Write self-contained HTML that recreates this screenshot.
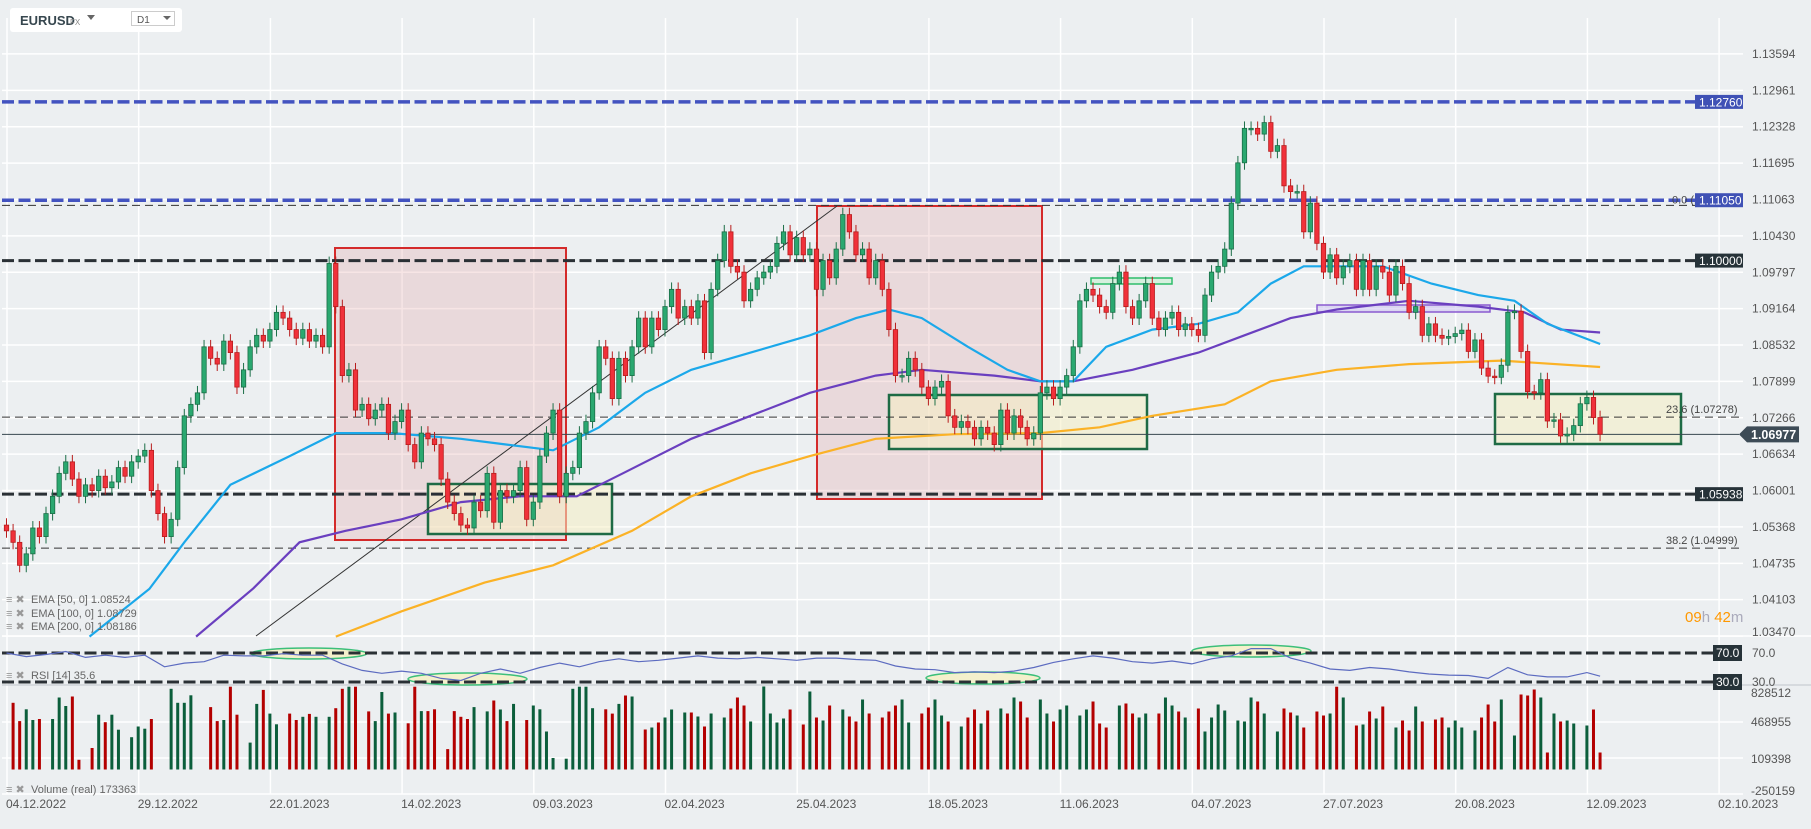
<!DOCTYPE html>
<html><head><meta charset="utf-8"><style>
html,body{margin:0;padding:0;background:#eceff1;}
svg{display:block;font-family:"Liberation Sans",sans-serif;}
</style></head><body>
<svg id="c" width="1811" height="829" viewBox="0 0 1811 829"></svg>
<script>
const closes=[1.0530,1.0510,1.0470,1.0490,1.0535,1.0520,1.0560,1.0590,1.0630,1.0650,1.0620,1.0590,1.0610,1.0600,1.0625,1.0605,1.0615,1.0640,1.0625,1.0650,
1.0660,1.0670,1.0600,1.0560,1.0520,1.0550,1.0640,1.0730,1.0750,1.0770,1.0850,1.0830,1.0820,1.0860,1.0840,1.0780,1.0810,1.0850,1.0870,1.0860,
1.0880,1.0910,1.0900,1.0880,1.0865,1.0880,1.0860,1.0870,1.0850,1.0995,1.0920,1.0800,1.0810,1.0740,1.0750,1.0725,1.0740,1.0750,1.0700,1.0720,
1.0740,1.0680,1.0650,1.0700,1.0690,1.0680,1.0620,1.0580,1.0560,1.0540,1.0535,1.0580,1.0565,1.0630,1.0545,1.0600,1.0590,1.0600,1.0640,1.0550,
1.0580,1.0660,1.0700,1.0740,1.0590,1.0630,1.0640,1.0700,1.0720,1.0770,1.0850,1.0830,1.0760,1.0830,1.0800,1.0850,1.0900,1.0850,1.0900,1.0880,
1.0920,1.0950,1.0900,1.0920,1.0900,1.0930,1.0840,1.0950,1.1000,1.1050,1.0990,1.0980,1.0930,1.0950,1.0970,1.0980,1.0990,1.1030,1.1050,1.1010,
1.1040,1.1010,1.1020,1.0950,1.1000,1.0970,1.1020,1.1080,1.1050,1.1010,1.1020,1.0970,1.1000,1.0950,1.0880,1.0800,1.0800,1.0830,1.0810,1.0780,
1.0760,1.0780,1.0790,1.0730,1.0710,1.0720,1.0710,1.0690,1.0710,1.0700,1.0680,1.0740,1.0700,1.0730,1.0710,1.0690,1.0700,1.0770,1.0780,1.0760,
1.0780,1.0800,1.0850,1.0930,1.0950,1.0940,1.0920,1.0910,1.0960,1.0980,1.0920,1.0900,1.0930,1.0960,1.0900,1.0880,1.0900,1.0910,1.0880,1.0890,
1.0880,1.0870,1.0940,1.0980,1.0990,1.1020,1.1100,1.1170,1.1230,1.1230,1.1220,1.1240,1.1190,1.1200,1.1130,1.1120,1.1120,1.1050,1.1100,1.1030,
1.0980,1.1010,1.0970,1.0990,1.1000,1.0950,1.1000,1.0950,1.0990,1.0980,1.0940,1.0990,1.0960,1.0910,1.0920,1.0870,1.0890,1.0870,
1.0865,1.0868,1.0873,1.0879,1.0842,1.0862,1.0813,1.0799,1.0797,1.0818,1.0910,1.0912,1.0842,1.0772,1.0770,1.0793,1.0721,1.0723,1.0695,1.0698,1.0713,1.0751,1.0762,1.0727,1.0698];
const firstOpen=1.0540;
const volumes=[0,667,484,602,495,505, 0,505,720,635,730,97, 0,215,548,473,548,398, 0,323,430,408,505,0, 0,807,667,667,742,0,
0,624,484,495,828,548, 0,269,656,796,559,452, 0,559,495,527,556,527, 0,527,613,807,828,828, 0,581,484,775,559,570,
0,462,828,584,584,602, 0,204,584,527,505,624, 0,581,690,600,484,656, 0,495,640,602,380,115, 0,108,807,828,828,613,
0,602,559,656,740,730, 0,400,420,470,520,600, 0,570,570,530,430,560, 0,520,610,720,640,480, 0,830,560,470,510,600,
0,450,780,520,490,640, 0,600,530,480,700,560, 0,520,580,640,700,470, 0,560,620,700,540,480, 0,430,520,600,460,590,
0,610,560,720,680,520, 0,700,560,480,600,640, 0,540,600,680,460,420, 0,640,660,560,520,560, 0,560,720,640,580,520,
0,610,380,520,650,590, 0,490,480,720,680,560, 0,380,610,570,540,420, 0,580,540,560,828,720, 0,440,450,580,510,630,
0,420,490,390,630,480, 0,500,520,420,490,420, 0,390,520,650,480,700, 0,340,750,740,800,720, 170,560,480,490,460,0,
440,600,170];
const rsiValues=[70,65,68,72,64,67,64,67,51,56,58,67,66,66,69,67,67,55,46,42,45,42,35,32,42,48,42,50,56,51,58,62,58,60,63,66,
63,62,64,62,60,63,63,61,60,52,48,47,43,44,43,45,50,57,62,66,63,58,56,59,55,62,66,76,76,63,56,48,46,50,48,44,41,39.5,39,35,50,40,37,37,43,38];
const ema50Bars=[12.6,21.7,27,34,43,50,58.6,69,76,83,90,97,104,113,122,129,134,139,146,152,157,162,167,174,181,187,192,197,202,209,216.4,223.5,229,234,242];
const ema50Vals=[1.0346,1.0429,1.051,1.061,1.066,1.070,1.070,1.069,1.068,1.067,1.071,1.077,1.081,1.084,1.087,1.090,1.0915,1.090,1.085,1.081,1.079,1.079,1.085,1.088,1.089,1.091,1.096,1.099,1.099,1.099,1.096,1.094,1.093,1.089,1.0855];
const ema100Bars=[28.8,37.5,44.5,51.5,60,69,78,86.6,93.6,104,113,122,132,139,150,157,162,171,181,188,195,202,213,223.5,230.5,236,242];
const ema100Vals=[1.0346,1.043,1.051,1.053,1.055,1.058,1.059,1.059,1.063,1.069,1.073,1.077,1.080,1.081,1.080,1.079,1.079,1.081,1.084,1.087,1.090,1.0915,1.093,1.092,1.091,1.088,1.0875];
const ema200Bars=[50,60,72.6,83,95,104,113,122,132,144,157,166,174,185,192,202,213,227,242];
const ema200Vals=[1.0346,1.039,1.044,1.047,1.053,1.059,1.063,1.066,1.069,1.0698,1.070,1.071,1.073,1.075,1.079,1.081,1.082,1.0826,1.0815];
const priceTicks=["1.13594","1.12961","1.12328","1.11695","1.11063","1.10430","1.09797","1.09164","1.08532","1.07899","1.07266","1.06634","1.06001","1.05368","1.04735","1.04103","1.03470"];
const dateLabels=["04.12.2022","29.12.2022","22.01.2023","14.02.2023","09.03.2023","02.04.2023","25.04.2023","18.05.2023","11.06.2023","04.07.2023","27.07.2023","20.08.2023","12.09.2023","02.10.2023"];
const volTicks=["828512","468955","109398","-250159"];

const svg=document.getElementById('c');
const NS='http://www.w3.org/2000/svg';
const X=i=>6.5+6.585*i;
const Y=p=>345+(1.08532-p)*5750;
const VY=v=>769.5-v*0.1;
const RY=r=>653+(70-r)*0.725;
function mk(tag,attrs,parent){const e=document.createElementNS(NS,tag);for(const k in attrs)e.setAttribute(k,attrs[k]);(parent||svg).appendChild(e);return e;}
function txt(s,x,y,attrs){const e=mk('text',Object.assign({x:x,y:y},attrs||{}));e.textContent=s;return e;}

// grid
const grid=mk('g',{});


for(let k=0;k<priceTicks.length;k++){const y=Y(parseFloat(priceTicks[k]));mk('line',{x1:2,x2:1743,y1:y,y2:y,stroke:'#fff','stroke-width':1.5},grid);}
for(let k=0;k<dateLabels.length;k++){const x=7+131.7*k;mk('line',{x1:x,x2:x,y1:18,y2:794,stroke:'#fff','stroke-width':1.5},grid);}
[722,758,794].forEach(y=>mk('line',{x1:2,x2:1743,y1:y,y2:y,stroke:'#fff','stroke-width':1.5},grid));
mk('line',{x1:2,x2:1811,y1:636,y2:636,stroke:'#fff','stroke-width':1.5},grid);
mk('line',{x1:2,x2:1811,y1:685,y2:685,stroke:'#cfd4d8','stroke-width':1.5},grid);

// red zones
[[335,248,566,540],[817,206,1042,499]].forEach((r,i)=>{const e=mk('rect',{x:r[0],y:r[1],width:r[2]-r[0],height:r[3]-r[1],fill:'rgba(226,160,160,0.28)',stroke:'#d42a2a','stroke-width':2});

});
// green boxes
[[428,484,612,534],[889,395,1147,449],[1495,394,1681,444]].forEach((r,i)=>{const e=mk('rect',{x:r[0],y:r[1],width:r[2]-r[0],height:r[3]-r[1],fill:'rgba(245,238,195,0.55)',stroke:'#1e6b45','stroke-width':2.5});

});
let e=mk('rect',{x:1091,y:278,width:81,height:6,fill:'rgba(200,240,210,0.6)',stroke:'#2ebd6b','stroke-width':1.5});


e=mk('rect',{x:1317,y:305,width:173,height:7,fill:'rgba(200,190,240,0.5)',stroke:'#8a5ad0','stroke-width':1.5});



// level lines
function level(p,color,w,dash,x2,name){const y=Y(p);const l=mk('line',{x1:2,x2:x2,y1:y,y2:y,stroke:color,'stroke-width':w,'stroke-dasharray':dash});}
level(1.12760,'#4353c0',3.5,'12 4.5',1695,'resistance-1.12760');
level(1.10961,'#333',1,'8 5',1740,'fib-0-line');
level(1.11050,'#4353c0',3.5,'12 4.5',1695,'resistance-1.11050');
level(1.10000,'#2a3035',3,'12 4.5',1695,'level-1.10000');
level(1.05938,'#2a3035',3,'12 4.5',1695,'support-1.05938');
level(1.07278,'#333',1,'8 5',1740,'fib-23.6-line');
level(1.04999,'#333',1,'8 5',1740,'fib-38.2-line');
e=mk('line',{x1:2,x2:1739,y1:Y(1.06977),y2:Y(1.06977),stroke:'#37474f','stroke-width':1});


e=mk('line',{x1:256,y1:636,x2:837,y2:206,stroke:'#333','stroke-width':1});



// EMAs
function ema(bars,vals,color,name){let d='';for(let i=0;i<bars.length;i++){d+=(i?'L':'M')+X(bars[i]).toFixed(1)+','+Y(vals[i]).toFixed(1);}const p=mk('path',{d:d,fill:'none',stroke:color,'stroke-width':2.2});}
ema(ema200Bars,ema200Vals,'#fbb226','ema-200-line');
ema(ema100Bars,ema100Vals,'#6a3fbf','ema-100-line');
ema(ema50Bars,ema50Vals,'#1ba8ea','ema-50-line');

// candles
const cg=mk('g',{});


for(let i=0;i<closes.length;i++){
  const o=i?closes[i-1]:firstOpen,c=closes[i];
  const up=c>=o;const hi=Math.max(o,c)+0.0012,lo=Math.min(o,c)-0.0012;
  const x=X(i);
  const g=mk('g',{},cg);
  
  
  mk('line',{x1:x,x2:x,y1:Y(hi),y2:Y(lo),stroke:up?'#1b6e47':'#b71c1c','stroke-width':1},g);
  const t=Y(Math.max(o,c)),b=Y(Math.min(o,c));
  mk('rect',{x:x-2.2,y:t,width:4.4,height:Math.max(1.5,b-t),fill:up?'#2aa870':'#f0313a',stroke:up?'#1b6e47':'#b71c1c','stroke-width':0.8},g);
}
// volume
const vg=mk('g',{});


for(let i=0;i<Math.min(volumes.length,closes.length);i++){
  if(!volumes[i])continue;
  const o=i?closes[i-1]:firstOpen,up=closes[i]>=o;
  const r=mk('rect',{x:X(i)-1.5,y:VY(volumes[i]),width:3,height:VY(0)-VY(volumes[i]),fill:up?'#0b5e3b':'#b30000'},vg);
  
  
}
// RSI
[[251,648,367,659],[408,673,527,685],[926,672,1040,684],[1192,645,1311,657]].forEach((r,i)=>{const el=mk('ellipse',{cx:(r[0]+r[2])/2,cy:(r[1]+r[3])/2,rx:(r[2]-r[0])/2,ry:(r[3]-r[1])/2,fill:'rgba(245,240,200,0.9)',stroke:'#3cbf7a','stroke-width':1.5});

});
[70,30].forEach(v=>{const l=mk('line',{x1:2,x2:1713,y1:RY(v),y2:RY(v),stroke:'#2a3035','stroke-width':3,'stroke-dasharray':'12 4.5'});});
let rd='';for(let k=0;k<rsiValues.length;k++){rd+=(k?'L':'M')+X(Math.min(k*3,242)).toFixed(1)+','+RY(rsiValues[k]).toFixed(1);}
e=mk('path',{d:rd,fill:'none',stroke:'#5c6bc0','stroke-width':1.2});



// axis labels
const ax={fill:'#555','font-size':12};
priceTicks.forEach(t=>{const y=Y(parseFloat(t));const el=txt(t,1752,Math.min(y,632)+4,ax);});
dateLabels.forEach((t,k)=>{const el=txt(t,6+131.7*k,808,ax);});
[[volTicks[0],697],[volTicks[1],726],[volTicks[2],763],[volTicks[3],795]].forEach(a=>{const el=txt(a[0],1751,a[1],ax);});
[['70.0',RY(70)],['30.0',RY(30)]].forEach(a=>{const el=txt(a[0],1752,a[1]+4,ax);
 const b=mk('rect',{x:1713,y:a[1]-8,width:29,height:16,fill:'#263238'});
 const tt=txt(a[0],1716,a[1]+4,{fill:'#fff','font-size':12});});

// price tags
function tag(label,p,color,name){const y=Y(p);const b=mk('rect',{x:1695,y:y-7,width:48,height:14,fill:color});const t=txt(label,1699,y+4.5,{fill:'#fff','font-size':12});}
e=txt('0.0 (1.10961)',1672,Y(1.10961)-2,{fill:'#444','font-size':11});


tag('1.12760',1.12760,'#3f51b5','tag-1.12760');
tag('1.11050',1.11050,'#3f51b5','tag-1.11050');
tag('1.10000',1.10000,'#263238','tag-1.10000');
tag('1.05938',1.05938,'#263238','tag-1.05938');
e=txt('23.6 (1.07278)',1666,413,{fill:'#444','font-size':11});


e=txt('38.2 (1.04999)',1666,544,{fill:'#444','font-size':11});


{const y=Y(1.06977);e=mk('path',{d:`M1739,${y} L1747,${y-8} L1799,${y-8} L1799,${y+8} L1747,${y+8} Z`,fill:'#3d4b56'});


e=txt('1.06977',1751,y+4.5,{fill:'#fff','font-size':12.5,'font-weight':'bold'});

}

// countdown
e=mk('text',{x:1685,y:622,'font-size':15});


e.innerHTML='<tspan fill="#ff9800">09</tspan><tspan fill="#aab">h </tspan><tspan fill="#ff9800">42</tspan><tspan fill="#aab">m</tspan>';

// legends
const lg={fill:'#666','font-size':11};
[['EMA [50,  0] 1.08524',603],['EMA [100,  0] 1.08729',617],['EMA [200,  0] 1.08186',630],['RSI [14]  35.6',679],['Volume  (real)  173363',793]].forEach((a,i)=>{
 const ic=txt('\u2261 \u2716',6,a[1],{fill:'#999','font-size':11});
 const t=txt(a[0],31,a[1],lg);});

// header
e=mk('rect',{x:10,y:8,width:172,height:24,rx:3,fill:'#fff'});


e=txt('EURUSD',20,25,{fill:'#37474f','font-size':13,'font-weight':'bold'});


e=txt('FX',70,25,{fill:'#888','font-size':8});


e=mk('path',{d:'M87,15 L95,15 L91,20 Z',fill:'#666'});


e=mk('rect',{x:131.5,y:11.5,width:43,height:14,fill:'#fff',stroke:'#ccc'});


e=txt('D1',137,23,{fill:'#555','font-size':10});


e=mk('path',{d:'M163,16 L171,16 L167,20 Z',fill:'#666'});


</script>
</body></html>
